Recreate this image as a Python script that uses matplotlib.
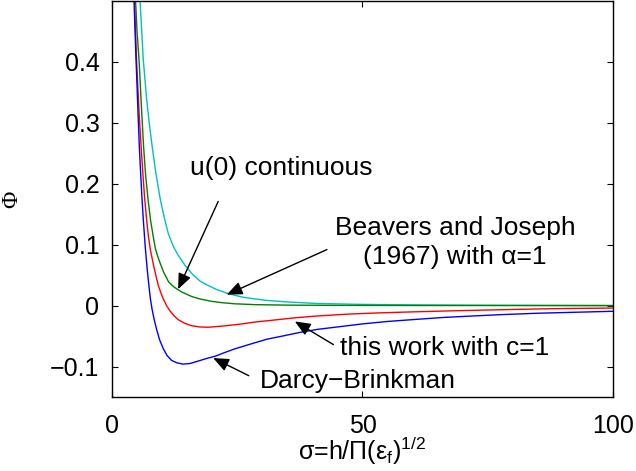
import matplotlib
matplotlib.use('Agg')
import matplotlib.pyplot as plt

plt.rcParams['font.family'] = ['Liberation Sans', 'DejaVu Sans']
plt.rcParams['mathtext.fontset'] = 'custom'
plt.rcParams['mathtext.rm'] = 'Liberation Sans'
plt.rcParams['mathtext.it'] = 'Liberation Sans'

# Darcy-Brinkman (blue)
blue_s = [4.2, 4.4, 4.6, 4.8, 5.0, 5.2, 5.45, 5.7, 6.0, 6.3, 6.65, 7.0, 7.3, 7.65,
          8.0, 8.4, 8.9, 9.5, 10.25, 11.0, 11.9, 13.0, 14.2, 15.6, 17.2, 18.8,
          20.6, 22.5, 24.5, 26.5, 28.5, 31, 34, 37.5, 41, 45, 50, 55, 60, 66, 72,
          78, 85, 92, 100]
blue_v = [0.56, 0.50, 0.45, 0.403, 0.36, 0.315, 0.262, 0.22, 0.174, 0.135, 0.095,
          0.062, 0.038, 0.012, -0.006, -0.022, -0.039, -0.056, -0.071, -0.082,
          -0.090, -0.094, -0.096, -0.095, -0.091, -0.087, -0.083, -0.077, -0.071,
          -0.066, -0.061, -0.055, -0.050, -0.044, -0.039, -0.035, -0.030, -0.026,
          -0.023, -0.0195, -0.017, -0.0147, -0.0125, -0.011, -0.0093]

# this work with c=1 (red)
red_s = [4.3, 4.5, 4.7, 4.9, 5.15, 5.45, 5.85, 6.2, 6.5, 6.9, 7.25, 7.65, 8.25,
         8.8, 9.25, 9.8, 10.3, 10.9, 11.6, 12.4, 13.2, 14.5, 15.9, 17.5, 19.2,
         21.5, 23.9, 26, 28.5, 32, 36.5, 41, 47, 53, 59.5, 68, 77.4, 88, 100]
red_v = [0.55, 0.50, 0.45, 0.403, 0.36, 0.31, 0.256, 0.212, 0.178, 0.142, 0.115,
         0.092, 0.068, 0.048, 0.033, 0.020, 0.010, 0.0, -0.009, -0.017, -0.023,
         -0.029, -0.033, -0.035, -0.0355, -0.034, -0.032, -0.030, -0.027, -0.024,
         -0.020, -0.017, -0.014, -0.012, -0.0104, -0.0085, -0.0068, -0.005, -0.004]

# Beavers and Joseph (green)
green_s = [4.5, 4.7, 5.0, 5.4, 5.85, 6.3, 6.7, 7.2, 7.7, 8.2, 8.65, 9.2, 9.6, 10.3,
           11.3, 12.3, 13.2, 14.0, 15.9, 17.5, 19.9, 22, 24.5, 28.5, 35, 45, 60,
           80, 100]
green_v = [0.55, 0.50, 0.45, 0.403, 0.33, 0.262, 0.215, 0.174, 0.14, 0.115, 0.094,
           0.079, 0.070, 0.055, 0.039, 0.031, 0.026, 0.022, 0.015, 0.011, 0.007,
           0.0048, 0.003, 0.0016, 0.0008, 0.0004, 0.0002, 0.0001, 0.0]

# u(0) continuous (cyan)
cyan_s = [5.2, 5.6, 6.25, 6.9, 7.5, 8.1, 8.8, 9.65, 10.5, 11.25, 12.3, 13.2, 14.5,
          16.0, 17.6, 19.2, 21, 23.2, 26, 28.5, 31, 35, 40.9, 50, 60, 75, 100]
cyan_v = [0.56, 0.50, 0.403, 0.34, 0.295, 0.256, 0.215, 0.174, 0.142, 0.118,
          0.096, 0.083, 0.067, 0.052, 0.040, 0.033, 0.026, 0.0197, 0.014, 0.011,
          0.0085, 0.006, 0.0035, 0.002, 0.0012, 0.0006, 0.0002]

fig = plt.figure(figsize=(6.36, 4.71), dpi=100)
ax = fig.add_axes([0.1761, 0.1571, 0.7877, 0.8408])

lw = 1.0
ax.plot(cyan_s, cyan_v, color=(0, 0.75, 0.75), lw=lw)
ax.plot(green_s, green_v, color=(0, 0.5, 0), lw=lw)
ax.plot(red_s, red_v, color=(1, 0, 0), lw=lw)
ax.plot(blue_s, blue_v, color=(0, 0, 1), lw=lw)

ax.set_xlim(0, 100)
ax.set_ylim(-0.15, 0.5)
ax.set_xticks([0, 50, 100])
ax.set_yticks([-0.1, 0, 0.1, 0.2, 0.3, 0.4])
ax.set_yticklabels(['\u22120.1', '0', '0.1', '0.2', '0.3', '0.4'])
ax.tick_params(direction='in', top=True, right=True, length=4, width=0.8,
               labelsize=18)
ax.tick_params(axis='y', pad=9)
ax.tick_params(axis='x', pad=12)
for sp in ax.spines.values():
    sp.set_linewidth(1.0)

ax.set_xlabel('σ=h/Π(ε$_\\mathrm{f}$)$^\\mathrm{1/2}$', fontsize=18, va='bottom')
ax.xaxis.set_label_coords(0.5, -0.178)
ax.set_ylabel('Φ', fontsize=17, family=['Liberation Serif', 'DejaVu Serif'])
ax.yaxis.set_label_coords(-0.18, 0.5)

fs = 19
arr = dict(arrowstyle='-|>,head_length=0.95,head_width=0.4', color='k', lw=1.0,
           mutation_scale=10, shrinkA=0, shrinkB=0)

ax.text(33.7, 0.226, 'u(0) continuous', fontsize=fs, ha='center', va='center')
ax.annotate('', xy=(13.2, 0.027), xytext=(21.2, 0.171), arrowprops=arr)

ax.text(68.5, 0.103, 'Beavers and Joseph\n(1967) with α=1', fontsize=fs,
        ha='center', va='center', linespacing=1.25)
ax.annotate('', xy=(22.9, 0.018), xytext=(42.9, 0.092), arrowprops=arr)

ax.text(66.3, -0.069, 'this work with c=1', fontsize=fs, ha='center', va='center')
ax.annotate('', xy=(36.5, -0.026), xytext=(44.2, -0.064), arrowprops=arr)

ax.text(49.1, -0.124, 'Darcy\u2212Brinkman', fontsize=fs, ha='center', va='center')
ax.annotate('', xy=(20.2, -0.086), xytext=(27.3, -0.115), arrowprops=arr)

fig.savefig('out.png', dpi=100)
